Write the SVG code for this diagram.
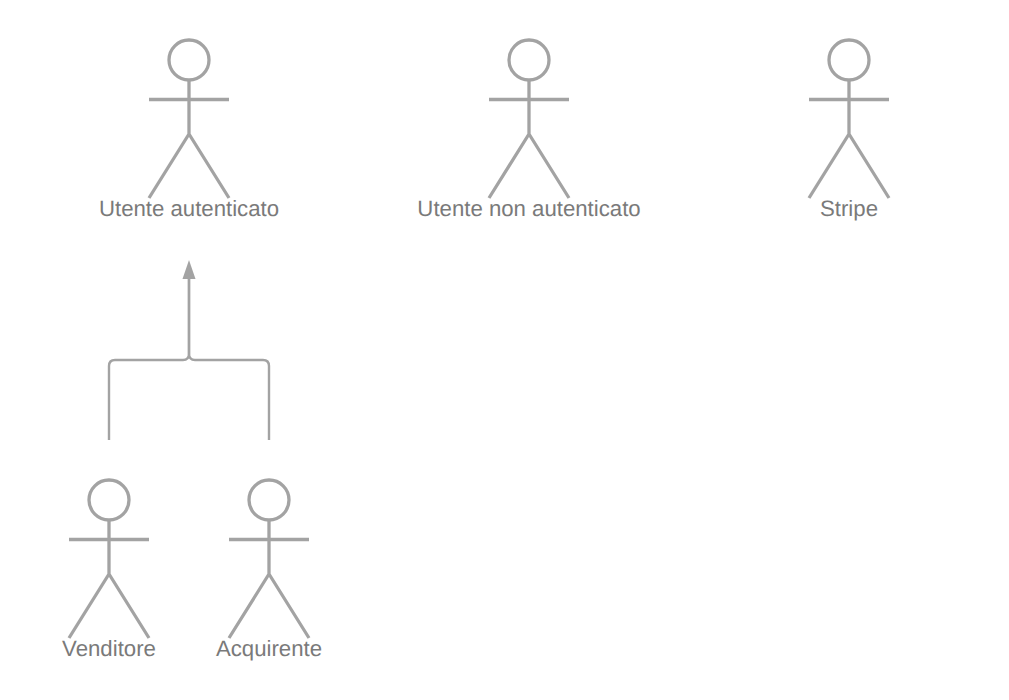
<svg xmlns="http://www.w3.org/2000/svg" width="1009" height="700" viewBox="0 0 1009 700">
<style>
.s{fill:none;stroke:#a3a3a3;stroke-width:3.3}
.c{fill:none;stroke:#a3a3a3;stroke-width:2.4}
text{font-family:"Liberation Sans",Arial,sans-serif;font-size:22.2px;fill:#7a7a7a;text-anchor:middle;text-rendering:geometricPrecision}
</style>
<defs>
<g id="a"><circle class="s" cx="0" cy="20" r="20"/><path class="s" d="M0 40V94M-40 59.500H40M-40 158L0 94L40 158"/></g>
</defs>
<rect width="1009" height="700" fill="#fff"/>
<g id="connectors">
<path class="c" d="M109 440V366Q109 360 115 360H183Q189 360 189 354V278"/>
<path class="c" d="M269 440V366Q269 360 263 360H195Q189 360 189 354V278"/>
<path d="M189 260L195.500 279H182.500Z" fill="#a3a3a3"/>
</g>
<g id="n1"><use href="#a" x="189" y="40"/><text x="189" y="216">Utente autenticato</text></g>
<g id="n2"><use href="#a" x="529" y="40"/><text x="529" y="216">Utente non autenticato</text></g>
<g id="n3"><use href="#a" x="849" y="40"/><text x="849" y="216">Stripe</text></g>
<g id="n4"><use href="#a" x="109" y="480"/><text x="109" y="656">Venditore</text></g>
<g id="n5"><use href="#a" x="269" y="480"/><text x="269" y="656">Acquirente</text></g>
</svg>
